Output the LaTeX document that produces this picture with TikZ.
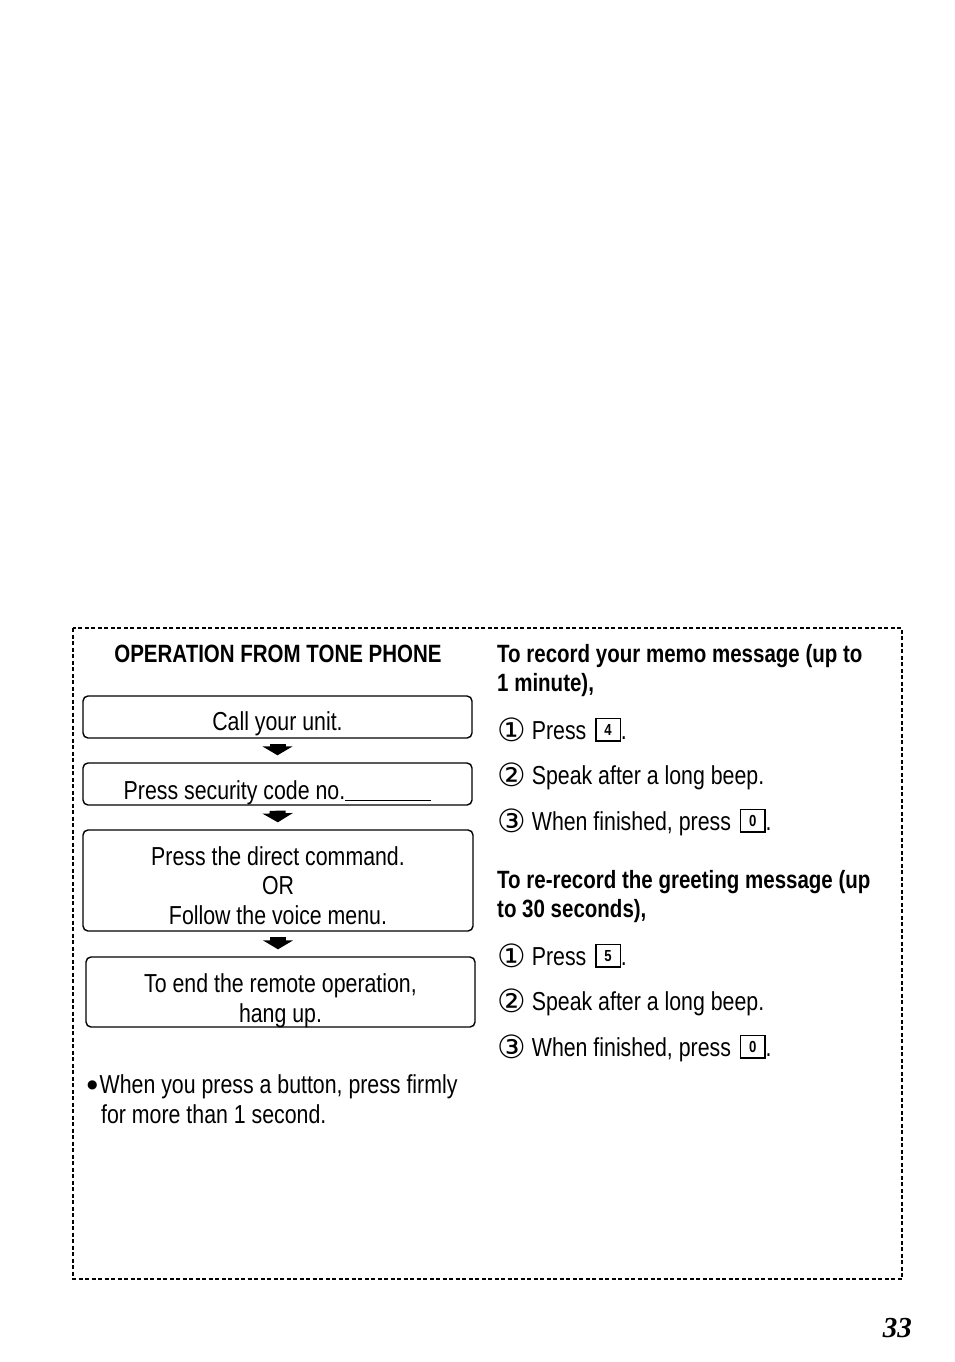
\documentclass[tikz,border=0pt]{standalone}
\usepackage{fontspec}
\setmainfont[FakeStretch=0.82]{Liberation Sans}
\newfontfamily\circfont{DejaVu Sans}
\newfontfamily\pagefont{Liberation Serif}
\usetikzlibrary{positioning,arrows.meta}
\newcommand{\keycap}[1]{\hspace{3pt}\raisebox{1.3pt}{\fboxsep=2.5pt\fboxrule=1.3pt\fbox{\makebox[18pt]{\rule{0pt}{16pt}\raisebox{2.5pt}{\fontsize{16}{16}\selectfont\bfseries #1}}}}}
\newcommand{\circnum}[1]{\raisebox{-2pt}{\circfont\fontsize{32}{32}\selectfont #1}\hspace{6pt}}
\tikzset{
  stepbox/.style={draw, rounded corners=5pt, line width=1.4pt, minimum width=389pt, minimum height=42pt, align=center, inner sep=0pt, text depth=0pt, font=\fontsize{26}{29.5}\selectfont},
  blockarrow/.style={line width=16pt, -{Triangle[width=30pt,length=9pt]}, shorten <=5pt, shorten >=7pt},
  headtext/.style={font=\fontsize{25}{29}\selectfont\bfseries, inner sep=0pt, align=left, anchor=base west},
  bodytext/.style={font=\fontsize{26}{29.5}\selectfont, inner sep=0pt, align=left, anchor=base west},
  dashframe/.style={dash pattern=on 4pt off 2.5pt, line width=1.2pt}
}
\begin{document}
\begin{tikzpicture}[x=1pt, y=-1pt]
  \useasboundingbox (0,0) rectangle (954,1362);
  \draw[dashframe] (73,628) rectangle (902,1279);

  % left column: flow of steps
  \node[headtext, anchor=base] (title) at (278,662) {OPERATION FROM TONE PHONE};
  \node[stepbox, text height=26pt] (call) at (277.5,717) {Call your unit.};
  \node[stepbox, text height=30pt] (code) at (277.5,784) {Press security code no.\rule[-2pt]{86pt}{1.2pt}};
  \node[stepbox, text height=87pt, minimum height=101pt, minimum width=390pt] (cmd) at (278,880.5) {Press the direct command.\\OR\\Follow the voice menu.};
  \node[stepbox, text height=60pt, minimum height=70pt] (hang) at (280.5,992) {To end the remote operation,\\hang up.};
  \draw[blockarrow] (call.south) -- (code.north);
  \draw[blockarrow] (code.south) -- (cmd.north);
  \draw[blockarrow] (cmd.south) -- (cmd.south |- hang.north);
  \node[bodytext] (tip) at (87,1123) {\raisebox{5pt}{\circfont\fontsize{12}{12}\selectfont●}\hspace{2pt}When you press a button, press firmly\\\hspace*{14pt}for more than 1 second.};

  % right column: memo and greeting
  \node[headtext] (memo) at (497,691) {To record your memo message (up to\\1 minute),};
  \node[bodytext] (memo1) at (497,739) {\circnum{①}Press \keycap{4}.};
  \node[bodytext] (memo2) at (497,784) {\circnum{②}Speak after a long beep.};
  \node[bodytext] (memo3) at (497,830) {\circnum{③}When finished, press \keycap{0}.};
  \node[headtext] (greet) at (497,917) {To re-record the greeting message (up\\to 30 seconds),};
  \node[bodytext] (greet1) at (497,965) {\circnum{①}Press \keycap{5}.};
  \node[bodytext] (greet2) at (497,1010) {\circnum{②}Speak after a long beep.};
  \node[bodytext] (greet3) at (497,1056) {\circnum{③}When finished, press \keycap{0}.};

  \node[inner sep=0pt, anchor=base east, font=\pagefont\bfseries\itshape\fontsize{29}{29}\selectfont] (page) at (912,1337) {33};
\end{tikzpicture}
\end{document}
